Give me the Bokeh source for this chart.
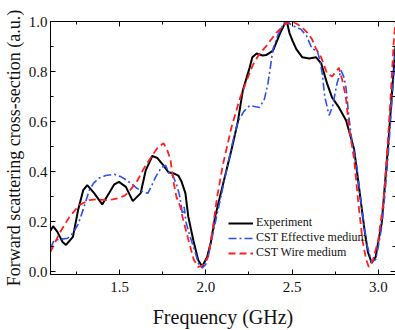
from bokeh.plotting import figure
from bokeh.models import (LinearAxis, SingleIntervalTicker, Range1d, Legend, LegendItem,
                          NumeralTickFormatter, CustomJSTickFormatter)
from bokeh.embed import file_html
from bokeh.resources import INLINE

# ---- data ----
exp_f = [1.10, 1.115, 1.14, 1.17, 1.19, 1.23, 1.26, 1.29, 1.313, 1.353, 1.40, 1.44, 1.47, 1.497,
         1.537, 1.577, 1.623, 1.652, 1.69, 1.72, 1.75, 1.784, 1.82, 1.841, 1.86, 1.882, 1.899,
         1.928, 1.956, 1.979, 2.008, 2.03, 2.054, 2.10, 2.15, 2.186, 2.215, 2.255, 2.27, 2.295,
         2.33, 2.35, 2.39, 2.43, 2.457, 2.47, 2.485, 2.505, 2.525, 2.56, 2.60, 2.64, 2.669, 2.703,
         2.732, 2.772, 2.813, 2.841, 2.86, 2.89, 2.92, 2.94, 2.962, 2.985, 3.00, 3.02, 3.04,
         3.06, 3.08, 3.10]
exp_v = [0.165, 0.183, 0.16, 0.12, 0.108, 0.14, 0.247, 0.327, 0.347, 0.315, 0.27, 0.315, 0.35, 0.36,
         0.34, 0.283, 0.315, 0.406, 0.463, 0.455, 0.43, 0.398, 0.392, 0.385, 0.36, 0.315, 0.22,
         0.127, 0.048, 0.022, 0.06, 0.12, 0.22, 0.35, 0.49, 0.60, 0.725, 0.817, 0.857, 0.872,
         0.864, 0.866, 0.884, 0.952, 0.99, 1.0, 0.955, 0.92, 0.89, 0.857, 0.852, 0.857, 0.833, 0.753,
         0.697, 0.657, 0.606, 0.538, 0.49, 0.33, 0.17, 0.08, 0.036, 0.06, 0.12, 0.195, 0.36,
         0.53, 0.72, 0.90]

eff_f = [1.10, 1.12, 1.15, 1.20, 1.23, 1.26, 1.29, 1.325, 1.35, 1.38, 1.42, 1.47, 1.51, 1.555,
         1.60, 1.64, 1.665, 1.69, 1.71, 1.74, 1.767, 1.79, 1.81, 1.835, 1.85, 1.865, 1.875,
         1.885, 1.91, 1.94, 1.96, 1.98, 2.00, 2.02, 2.05, 2.10, 2.15, 2.186, 2.22, 2.255, 2.29,
         2.313, 2.34, 2.36, 2.39, 2.42, 2.456, 2.49, 2.525, 2.55, 2.583, 2.617, 2.646, 2.66,
         2.675, 2.69, 2.715, 2.735, 2.761, 2.784, 2.80, 2.813, 2.83, 2.847, 2.876, 2.90, 2.93,
         2.962, 2.985, 3.00, 3.02, 3.04, 3.06, 3.08, 3.10]
eff_v = [0.095, 0.125, 0.13, 0.135, 0.155, 0.19, 0.25, 0.327, 0.355, 0.374, 0.385, 0.39, 0.38, 0.36,
         0.335, 0.318, 0.315, 0.35, 0.38, 0.415, 0.426, 0.39, 0.385, 0.34, 0.30, 0.23, 0.26,
         0.20, 0.14, 0.076, 0.03, 0.016, 0.03, 0.08, 0.18, 0.34, 0.50, 0.60, 0.64, 0.665, 0.66,
         0.657, 0.69, 0.75, 0.89, 0.95, 0.996, 0.99, 0.976, 0.97, 0.944, 0.89, 0.884, 0.85,
         0.793, 0.70, 0.625, 0.66, 0.753, 0.805, 0.78, 0.737, 0.617, 0.526, 0.42, 0.28, 0.12,
         0.04, 0.05, 0.10, 0.18, 0.32, 0.49, 0.69, 0.88]

wire_f = [1.10, 1.152, 1.21, 1.267, 1.324, 1.37, 1.42, 1.46, 1.497, 1.53, 1.554, 1.60, 1.635,
          1.69, 1.72, 1.755, 1.775, 1.795, 1.813, 1.83, 1.853, 1.865, 1.88, 1.90, 1.93, 1.956,
          1.98, 2.014, 2.04, 2.066, 2.10, 2.15, 2.198, 2.235, 2.272, 2.31, 2.353, 2.41, 2.468,
          2.50, 2.53, 2.56, 2.59, 2.617, 2.64, 2.669, 2.703, 2.732, 2.755, 2.772, 2.79, 2.812,
          2.83, 2.86, 2.887, 2.91, 2.93, 2.945, 2.97, 3.00, 3.03, 3.05, 3.07, 3.09, 3.10]
wire_v = [0.08, 0.155, 0.22, 0.267, 0.287, 0.29, 0.287, 0.29, 0.295, 0.305, 0.32, 0.36, 0.406,
          0.466, 0.495, 0.514, 0.49, 0.45, 0.36, 0.30, 0.26, 0.22, 0.18, 0.127, 0.05, 0.02,
          0.025, 0.06, 0.17, 0.30, 0.43, 0.58, 0.693, 0.76, 0.825, 0.87, 0.904, 0.956, 0.995,
          1.0, 0.99, 0.976, 0.955, 0.928, 0.89, 0.857, 0.793, 0.78, 0.80, 0.815, 0.77, 0.70,
          0.58, 0.45, 0.26, 0.12, 0.05, 0.02, 0.05, 0.127, 0.28, 0.458, 0.68, 0.92, 1.0]

labels = ["Experiment", "CST Effective medium", "CST Wire medium"]
FONT = "'Liberation Serif', 'Times New Roman', serif"

p = figure(frame_width=345, frame_height=253, output_backend="svg", toolbar_location=None,
           x_range=Range1d(1.1, 3.1), y_range=Range1d(-0.01, 1.0),
           min_border_left=41, min_border_top=21, min_border_right=1, min_border_bottom=40,
           x_axis_label="Frequency (GHz)",
           y_axis_label="Forward scattering cross-section (a.u.)")
p.background_fill_color = "white"
p.border_fill_color = "white"
p.outline_line_color = "black"
p.outline_line_width = 1
p.xgrid.visible = False
p.ygrid.visible = False

p.xaxis.ticker = SingleIntervalTicker(interval=0.5, num_minor_ticks=2)
p.yaxis.ticker = SingleIntervalTicker(interval=0.2, num_minor_ticks=2)
p.xaxis.formatter = NumeralTickFormatter(format="0.0")
p.yaxis.formatter = NumeralTickFormatter(format="0.0")

for ax in (p.xaxis[0], p.yaxis[0]):
    ax.major_tick_in = 5
    ax.major_tick_out = 0
    ax.minor_tick_in = 3
    ax.minor_tick_out = 0
    ax.axis_line_color = "black"
    ax.major_tick_line_color = "black"
    ax.minor_tick_line_color = "black"
    ax.major_label_text_font = FONT
    ax.major_label_text_font_size = "15px"
    ax.major_label_text_color = "#111111"
    ax.axis_label_text_font = FONT
    ax.axis_label_text_font_style = "normal"
    ax.axis_label_text_color = "#111111"

p.xaxis.axis_label_text_font_size = "20px"
p.yaxis.axis_label_text_font_size = "18px"
p.xaxis.major_label_standoff = 7
p.xaxis.axis_label_standoff = 11
p.yaxis.major_label_standoff = 3
p.yaxis.axis_label_standoff = 2

# mirrored axes (ticks only) on top and right
blank = CustomJSTickFormatter(code="return ''")
top = LinearAxis(ticker=SingleIntervalTicker(interval=0.5, num_minor_ticks=2), formatter=blank)
right = LinearAxis(ticker=SingleIntervalTicker(interval=0.2, num_minor_ticks=2), formatter=blank)
for ax in (top, right):
    ax.major_tick_in = 5
    ax.major_tick_out = 0
    ax.minor_tick_in = 3
    ax.minor_tick_out = 0
    ax.major_label_text_font_size = "1px"
    ax.major_label_standoff = 0
    ax.axis_line_color = "black"
p.add_layout(top, "above")
p.add_layout(right, "right")

r_exp = p.line(exp_f, exp_v, line_color="black", line_width=2)
r_eff = p.line(eff_f, eff_v, line_color="#2e4ff0", line_width=1.6, line_dash="8 3 2 3")
r_wire = p.line(wire_f, wire_v, line_color="#ff1f1f", line_width=1.8, line_dash="7 4")

legend = Legend(items=[LegendItem(label=labels[0], renderers=[r_exp]),
                       LegendItem(label=labels[1], renderers=[r_eff]),
                       LegendItem(label=labels[2], renderers=[r_wire])],
                location=(178, 14))
legend.background_fill_alpha = 0
legend.border_line_alpha = 0
legend.label_text_font = FONT
legend.label_text_font_size = "12px"
legend.label_text_color = "#111111"
legend.glyph_width = 25
legend.glyph_height = 14
legend.label_height = 14
legend.label_standoff = 3
legend.spacing = 0
legend.padding = 0
legend.margin = 0
p.add_layout(legend, "center")

open("out.html", "w").write(file_html(p, INLINE))
